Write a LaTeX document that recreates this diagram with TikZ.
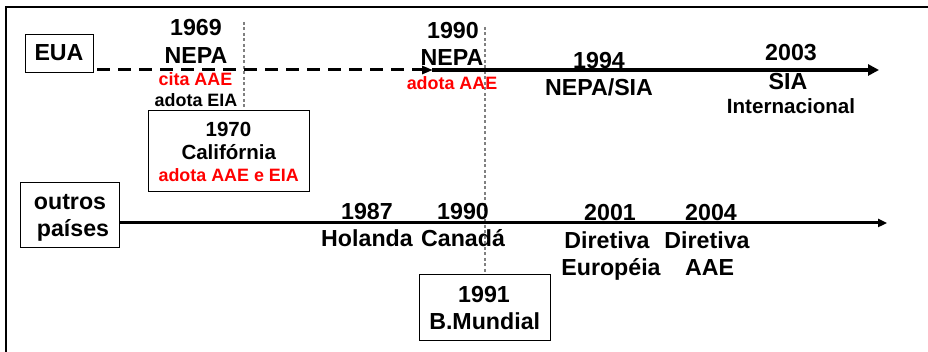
\documentclass[tikz,border=0pt]{standalone}
\usepackage{fontspec}
\setmainfont{Liberation Sans}
\usetikzlibrary{arrows.meta}
\definecolor{redtxt}{RGB}{255,0,0}
\definecolor{guide}{RGB}{128,128,128}
\tikzset{
  lbl/.style={anchor=base, inner sep=0pt, font=\fontsize{23.2}{27}\selectfont\bfseries},
  mid/.style={anchor=base, inner sep=0pt, font=\fontsize{20.5}{24}\selectfont\bfseries},
  sml/.style={anchor=base, inner sep=0pt, font=\fontsize{17.9}{21}\selectfont\bfseries},
  intl/.style={anchor=base, inner sep=0pt, font=\fontsize{20.6}{23}\selectfont\bfseries},
  redt/.style={text=redtxt},
  box/.style={draw=black, line width=0.9pt, inner sep=0pt},
  guideline/.style={draw=guide, line width=1.4pt, dash pattern=on 3pt off 2.5pt},
  axis/.style={draw=black, line width=3pt}
}
\begin{document}
\begin{tikzpicture}[x=1pt,y=-1pt]
\useasboundingbox (0,0) rectangle (928,352);
% outer frame
\draw[line width=2pt] (6,354) -- (6,7) -- (930,7);

% guide lines
\coordinate (g1a) at (244,22);
\coordinate (g1b) at (244,108);
\draw[guideline] (g1a) -- (g1b);

% boxes
\node[box, minimum width=68pt, minimum height=38pt,
      font=\fontsize{23.2}{27}\selectfont\bfseries] (eua) at (59,53) {EUA};
\node[box, minimum width=161pt, minimum height=81pt] (cal) at (228.5,150.5) {};
\node[box, minimum width=98.5pt, minimum height=65pt] (outros) at (70,214.5) {};
\node[box, minimum width=131.5pt, minimum height=65.5pt] (bm) at (485,307.2) {};

\coordinate (g2a) at (485,27);
\draw[guideline] (g2a) -- (bm.north);

% EUA timeline
\coordinate (d0) at (97,70);
\coordinate (d1) at (433,70);
\coordinate (e1) at (879,70);
\draw[line width=3pt, dash pattern=on 13pt off 8pt, -{Triangle[length=11pt,width=8pt]}] (d0) -- (d1);
\draw[line width=3.5pt, -{Triangle[length=11pt,width=11pt]}] ([xshift=-1pt]d1) -- (e1);

% others timeline
\coordinate (b0) at (120,223);
\coordinate (b1) at (887,223);
\draw[axis, -{Triangle[length=9pt,width=8pt]}] (b0) -- (b1);

% EUA texts
\node[lbl] (y1969) at (196,36) {1969};
\node[lbl] (n1969) at (196,63.3) {NEPA};
\node[sml, redt] (c1969) at (195.5,86) {cita AAE};
\node[sml] (a1969) at (196,106.7) {adota EIA};

\node[mid] (y1970) at (228.5,136.7) {1970};
\node[mid] (cal1) at (228.8,160) {Califórnia};
\node[sml, redt] (cal2) at (228.7,181.7) {adota AAE e EIA};

\node[lbl] (y1990a) at (453,39) {1990};
\node[lbl] (n1990) at (452,66) {NEPA};
\node[sml, redt] (a1990) at (452,89.3) {adota AAE};

\node[lbl] (y1994) at (599,68.3) {1994};
\node[lbl] (n1994) at (599,96) {NEPA/SIA};

\node[lbl] (y2003) at (791,60.7) {2003};
\node[lbl] (s2003) at (788,89.3) {SIA};
\node[intl] (i2003) at (791,113.3) {Internacional};

% other countries texts
\node[lbl] (o1) at (70,209.3) {outros};
\node[lbl] (o2) at (73,237) {países};

\node[lbl] (y1987) at (367,219.3) {1987};
\node[lbl] (hol) at (367,247) {Holanda};

\node[lbl] (y1990b) at (463,219.3) {1990};
\node[lbl] (can) at (463,246.7) {Canadá};

\node[lbl] (y2001) at (610,221) {2001};
\node[lbl] (d2001a) at (607,248.7) {Diretiva};
\node[lbl] (d2001b) at (611,276) {Européia};

\node[lbl] (y2004) at (711,221) {2004};
\node[lbl] (d2004a) at (707,248.7) {Diretiva};
\node[lbl] (d2004b) at (709.5,276) {AAE};

\node[lbl] (y1991) at (484,302.5) {1991};
\node[lbl] (bm1) at (484.7,329.3) {B.Mundial};
\end{tikzpicture}
\end{document}
